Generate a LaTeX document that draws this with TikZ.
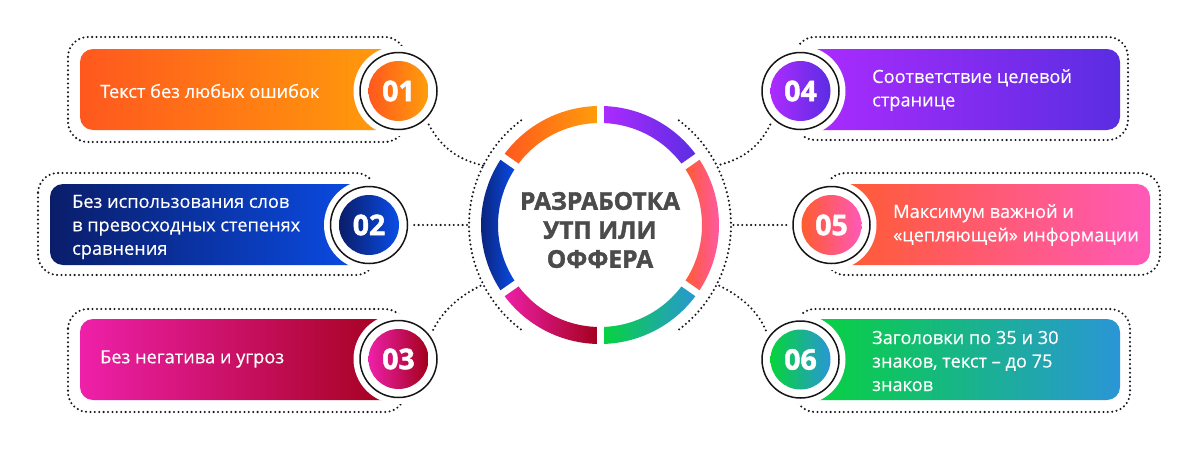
\documentclass[tikz,border=0pt]{standalone}
\usepackage{fontspec}
\setmainfont{Open Sans}[FakeBold=0.4]
\newfontfamily\heavyfont{Open Sans}[FakeBold=1.6]
\usetikzlibrary{calc}
\definecolor{oA}{HTML}{FF581E}\definecolor{oB}{HTML}{FF9E0A}
\definecolor{bA}{HTML}{0A1D69}\definecolor{bB}{HTML}{0A4DE8}
\definecolor{mA}{HTML}{EE20AA}\definecolor{mB}{HTML}{A2001A}
\definecolor{pA}{HTML}{AE2BFF}\definecolor{pB}{HTML}{5A2DE2}
\definecolor{cA}{HTML}{FF5B2E}\definecolor{cB}{HTML}{FF59B8}
\definecolor{gA}{HTML}{06D439}\definecolor{gB}{HTML}{2A96D6}
\definecolor{dotc}{HTML}{16161F}
\definecolor{titlec}{HTML}{4B4B4B}
\newcommand{\ringseg}[4]{%
  \shade[left color=#3, right color=#4]
    ($(O)+(-#1:119)$) arc[start angle=-#1, end angle=-#2, radius=119]
    -- ($(O)+(-#2:102)$) arc[start angle=-#2, end angle=-#1, radius=102] -- cycle;}
\begin{document}
\begin{tikzpicture}[x=1pt,y=-1pt,
  dotline/.style={draw=dotc, line width=2.3pt, line cap=round, dash pattern=on 0pt off 4.4pt},
  outline/.style={dotline, rounded corners=20pt},
  barshape/.style={rounded corners=13pt},
  bartext/.style={anchor=west, align=left, text=white, font=\fontsize{18.2}{23.5}\selectfont, inner sep=0pt},
  wdisk/.style={circle, fill=white, minimum size=90pt, inner sep=0pt},
  blackring/.style={circle, draw=black!92, line width=1.5pt, minimum size=77pt, inner sep=0pt},
  numdisk/.style={circle, minimum size=60pt, inner sep=0pt, text=white, font=\heavyfont\bfseries\fontsize{28.5}{28.5}\selectfont},
]
\fill[white] (0,0) rectangle (1200,450);
\useasboundingbox (0,0) rectangle (1200,450);
\coordinate (O) at (600,225);

% dotted outlines
\draw[outline] (68,37) rectangle (405,142);
\draw[outline] (38,173) rectangle (376,275);
\draw[outline] (68,309) rectangle (405,412);
\draw[outline] (795,37) rectangle (1128,140);
\draw[outline] (825,173) rectangle (1160,275);
\draw[outline] (795,309) rectangle (1130,412);

% bars
\shade[barshape, left color=oA, right color=oB] (80,49) rectangle (400,130);
\shade[barshape, left color=bA, right color=bB] (50,184) rectangle (370,265);
\shade[barshape, left color=mA, right color=mB] (80,319) rectangle (400,400);
\shade[barshape, left color=pA, right color=pB] (800,49) rectangle (1120,130);
\shade[barshape, left color=cA, right color=cB] (830,184) rectangle (1150,265);
\shade[barshape, left color=gA, right color=gB] (800,319) rectangle (1120,400);

% white disks
\node[wdisk] (w1) at (398.5,91) {};
\node[wdisk] (w2) at (369,225) {};
\node[wdisk] (w3) at (398.5,359) {};
\node[wdisk] (w4) at (800.5,91) {};
\node[wdisk] (w5) at (831.5,225) {};
\node[wdisk] (w6) at (800.5,359.5) {};

% black rings
\node[blackring] (r1) at (w1) {};
\node[blackring] (r2) at (w2) {};
\node[blackring] (r3) at (w3) {};
\node[blackring] (r4) at (w4) {};
\node[blackring] (r5) at (w5) {};
\node[blackring] (r6) at (w6) {};

% number disks
\node[numdisk, left color=oA, right color=oB] (n1) at (w1) {01};
\node[numdisk, left color=bA, right color=bB] (n2) at (w2) {02};
\node[numdisk, left color=mA, right color=mB] (n3) at (w3) {03};
\node[numdisk, left color=pA, right color=pB] (n4) at (w4) {04};
\node[numdisk, left color=cA, right color=cB] (n5) at (w5) {05};
\node[numdisk, left color=gA, right color=gB] (n6) at (w6) {06};

% texts
\node[bartext] (t1) at (100,91) {Текст без любых ошибок};
\node[bartext] (t2) at (72,227) {Без использования слов\\в превосходных степенях\\сравнения};
\node[bartext] (t3) at (100,359) {Без негатива и угроз};
\node[bartext] (t4) at (872,90) {Соответствие целевой\\странице};
\node[bartext] (t5) at (893,225) {Максимум важной и\\«цепляющей» информации};
\node[bartext] (t6) at (872,361) {Заголовки по 35 и 30\\знаков, текст – до 75\\знаков};

% arc points
\coordinate (A1) at ($(O)+(-153:131)$);
\coordinate (A2) at ($(O)+(-180:131)$);
\coordinate (A3) at ($(O)+(-207:131)$);
\coordinate (A4) at ($(O)+(-27:131)$);
\coordinate (A5) at ($(O)+(0:131)$);
\coordinate (A6) at ($(O)+(27:131)$);

% dotted arcs around the center
\draw[dotline] ($(O)+(-127:131)$) arc[start angle=-127, end angle=-233, radius=131];
\draw[dotline] ($(O)+(-53:131)$) arc[start angle=-53, end angle=53, radius=131];

% connectors
\draw[dotline] (w1.-48) .. controls (440,145) and (455,159) .. (A1);
\draw[dotline] (w2.east) -- (A2);
\draw[dotline] (w3.40) .. controls (441,314) and (456,297) .. (A3);
\draw[dotline] (w4.-132) .. controls (760,145) and (745,159) .. (A4);
\draw[dotline] (w5.west) -- (A5);
\draw[dotline] (w6.140) .. controls (759,314) and (744,297) .. (A6);

% ring segments
\ringseg{35}{90}{pA}{pB}
\ringseg{90}{145}{oA}{oB}
\ringseg{145}{215}{bA}{bB}
\ringseg{215}{270}{mA}{mB}
\ringseg{270}{325}{gA}{gB}
\ringseg{325}{395}{cA}{cB}
\foreach \g in {35,90,145,215,270,325}
  \draw[white, line width=7pt] ($(O)+(-\g:96)$) -- ($(O)+(-\g:125)$);

% title
\node[font=\heavyfont\bfseries\fontsize{24.5}{29}\selectfont, text=titlec, align=center] (title) at (600,230) {РАЗРАБОТКА\\УТП ИЛИ\\ОФФЕРА};
\end{tikzpicture}
\end{document}
